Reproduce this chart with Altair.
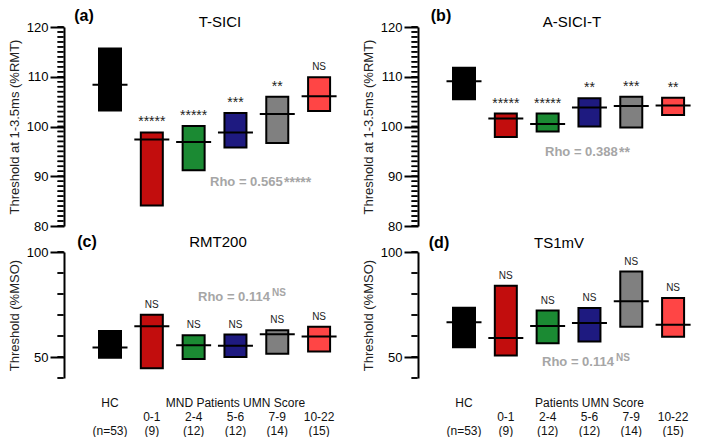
import altair as alt
import pandas as pd

FONT = "Liberation Sans, Arial, Helvetica, sans-serif"

groups = ["HC", "0-1", "2-4", "5-6", "7-9", "10-22"]
colors = ["#000000", "#C20D0D", "#1B8A33", "#1E1A80", "#808080", "#FF4545"]
score_labels = ["", "0-1", "2-4", "5-6", "7-9", "10-22"]
n_labels = ["(n=53)", "(9)", "(12)", "(12)", "(14)", "(15)"]
row1_c = ["HC", "", "", "MND Patients UMN Score", "", ""]
row1_d = ["HC", "", "", "Patients UMN Score", "", ""]

# (a) T-SICI
tsici_low = [103.2, 84.1, 91.2, 95.8, 96.7, 103.1]
tsici_med = [108.4, 97.4, 96.9, 98.8, 102.5, 106.1]
tsici_high = [115.7, 98.8, 100.1, 102.7, 106.0, 109.9]
tsici_sig = ["", "*****", "*****", "***", "**", "NS"]

# (b) A-SICI-T
asici_low = [105.5, 97.9, 99.0, 100.0, 99.8, 102.3]
asici_med = [109.1, 101.6, 100.5, 103.8, 104.1, 104.2]
asici_high = [111.8, 102.6, 102.6, 105.7, 106.0, 105.8]
asici_sig = ["", "*****", "*****", "**", "***", "**"]

# (c) RMT200
rmt_low = [49.7, 44.6, 49.1, 50.0, 51.6, 52.6]
rmt_med = [54.5, 64.7, 55.6, 55.4, 60.8, 59.8]
rmt_high = [62.4, 70.1, 60.4, 60.7, 62.7, 64.4]
rmt_sig = ["", "NS", "NS", "NS", "NS", "NS"]

# (d) TS1mV
ts_low = [54.6, 50.7, 56.6, 57.4, 64.4, 59.7]
ts_med = [66.5, 59.1, 64.8, 66.2, 76.6, 65.3]
ts_high = [73.5, 83.9, 72.1, 73.3, 90.7, 78.1]
ts_sig = ["", "NS", "NS", "NS", "NS", "NS"]

rho_values = ["Rho = 0.565", "Rho = 0.388", "Rho = 0.114", "Rho = 0.114"]
rho_sig = ["*****", "**", "NS", "NS"]

top_major = [80, 90, 100, 110, 120]
top_minor = list(range(80, 121))
bot_major = [50, 100]
bot_minor = [40, 50, 60, 70, 80, 90, 100]

W = 276
H_TOP = 199
H_BOT = 126
GREY = "#A6A6A6"


def one_text(text, x, y, **kw):
    return alt.Chart(pd.DataFrame({"t": [text]})).mark_text(font=FONT, **kw).encode(
        x=alt.value(x), y=alt.value(y), text="t:N"
    )


def panel(low, med, high, sig, ydomain, major, minor, ytitle, letter, title,
          title_pos, rho_idx, rho_pos, H, row1=None):
    df = pd.DataFrame({
        "group": groups, "low": low, "median": med, "high": high, "sig": sig,
        "score": score_labels, "n": n_labels,
        "row1": row1 if row1 is not None else [""] * 6,
    })
    xs = alt.Scale(domain=groups, paddingInner=0, paddingOuter=0.3, align=1)
    x = alt.X("group:N", scale=xs, axis=None, sort=groups)
    ys = alt.Scale(domain=ydomain, nice=False, zero=False)
    y_axis = alt.Axis(
        orient="left",
        values=major, title=ytitle, tickSize=14, tickWidth=2, tickColor="black",
        domainColor="black", domainWidth=2, labelFontSize=13, labelColor="black",
        labelPadding=2, labelFont=FONT, titleFont=FONT, titleFontSize=13,
        titleFontWeight="normal", titleColor="#222222", titlePadding=5,
        grid=False, labelFlush=False, labelOverlap=False,
    )

    def Y(field):
        return alt.Y(field, scale=ys, axis=y_axis)

    base = alt.Chart(df)
    bars = base.mark_bar(size=22, stroke="black", strokeWidth=2, opacity=1).encode(
        x=x,
        y=Y("low:Q"),
        y2="high:Q",
        color=alt.Color("group:N", scale=alt.Scale(domain=groups, range=colors), legend=None),
    )
    minor_df = pd.DataFrame({"v": minor})
    minor_rules = alt.Chart(minor_df).mark_rule(
        color="black", strokeWidth=1.5, opacity=1
    ).encode(y=Y("v:Q"), x=alt.value(-6.5), x2=alt.value(-0.5))
    minor_ticks = alt.Chart(minor_df).mark_tick(
        orient="horizontal", size=6, thickness=1.5, color="black", opacity=1
    ).encode(y=Y("v:Q"), x=alt.value(-3.5))
    meds = base.mark_tick(size=35, thickness=2, color="black", opacity=1).encode(
        x=x, y=Y("median:Q")
    )
    stars = base.transform_filter("datum.sig != '' && datum.sig != 'NS'").mark_text(
        font=FONT, fontSize=14, baseline="alphabetic", dy=-6, color="#222222"
    ).encode(x=x, y=Y("high:Q"), text="sig:N")
    ns = base.transform_filter("datum.sig == 'NS'").mark_text(
        font=FONT, fontSize=10, baseline="alphabetic", dy=-7, color="#222222"
    ).encode(x=x, y=Y("high:Q"), text="sig:N")

    layers = [bars, minor_rules, minor_ticks, meds, stars, ns]
    layers.append(one_text(letter, title_pos[0], title_pos[1], fontSize=16,
                           fontWeight="bold", baseline="middle", align="center"))
    layers.append(one_text(title, title_pos[2], title_pos[3], fontSize=15,
                           baseline="middle", align="center"))
    rx, ry = rho_pos
    layers.append(one_text(rho_values[rho_idx], rx, ry, fontSize=13, fontWeight="bold",
                           color=GREY, baseline="middle", align="left"))
    sup = rho_sig[rho_idx]
    if sup == "NS":
        layers.append(one_text(sup, rx + 74, ry - 4, fontSize=10, fontWeight="bold",
                               color=GREY, baseline="middle", align="left"))
    else:
        layers.append(one_text(sup, rx + 74, ry + 1, fontSize=14, fontWeight="bold",
                               color=GREY, baseline="middle", align="left"))
    if row1 is not None:
        lab = dict(font=FONT, fontSize=12, baseline="middle", align="center", color="#111111")
        layers.append(base.mark_text(**lab).encode(x=x, y=alt.value(H + 25), text="row1:N"))
        layers.append(base.mark_text(**lab).encode(x=x, y=alt.value(H + 39), text="score:N"))
        layers.append(base.mark_text(**lab).encode(x=x, y=alt.value(H + 53), text="n:N"))

    return alt.layer(*layers).properties(width=W, height=H)


pa = panel(tsici_low, tsici_med, tsici_high, tsici_sig, [80, 120], top_major, top_minor,
           "Threshold at 1-3.5ms (%RMT)", "(a)", "T-SICI", (20, -11, 156, -5),
           0, (146, 155), H_TOP)
pb = panel(asici_low, asici_med, asici_high, asici_sig, [80, 120], top_major, top_minor,
           "Threshold at 1-3.5ms (%RMT)", "(b)", "A-SICI-T", (23, -11, 154, -5),
           1, (127, 125), H_TOP)
pc = panel(rmt_low, rmt_med, rmt_high, rmt_sig, [40, 100], bot_major, bot_minor,
           "Threshold (%MSO)", "(c)", "RMT200", (23, -10, 154, -10),
           2, (134, 45), H_BOT, row1_c)
pd_ = panel(ts_low, ts_med, ts_high, ts_sig, [40, 100], bot_major, bot_minor,
            "Threshold (%MSO)", "(d)", "TS1mV", (21, -9, 141, -9),
            3, (124, 110), H_BOT, row1_d)

chart = alt.concat(
    pa, pb, pc, pd_, columns=2, spacing={"row": 26, "column": 78}, bounds="flush"
).configure_view(stroke=None).properties(padding=0)

chart.save("out.html", embed_options={"renderer": "svg", "actions": False})
